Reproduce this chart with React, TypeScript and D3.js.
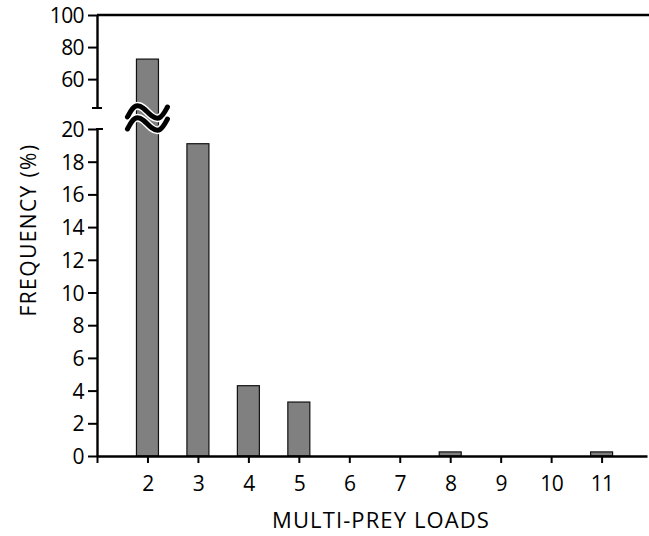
import React, { useEffect, useRef } from 'react';
import * as d3 from 'd3';

// multi-prey load categories and their frequency (%)
const loads = [2, 3, 4, 5, 6, 7, 8, 9, 10, 11];
const frequency = [72.5, 19.1, 4.3, 3.3, 0, 0, 0.25, 0, 0, 0.25];
const lowTicks = [0, 2, 4, 6, 8, 10, 12, 14, 16, 18, 20];
const highTicks = [60, 80, 100];
const xTicks = [1, 2, 3, 4, 5, 6, 7, 8, 9, 10, 11];

const W = 649;
const H = 536;
const FONT = "'Open Sans', sans-serif";

const App = () => {
  const ref = useRef(null);

  useEffect(() => {
    const svg = d3.select(ref.current);
    svg.selectAll('*').remove();

    const x = d3.scaleLinear().domain([1, 11.9]).range([97, 647]);
    const yLow = d3.scaleLinear().domain([0, 20]).range([456, 129]);
    const yHigh = d3.scaleLinear().domain([42, 100]).range([108, 15]);
    const barW = 22;

    const yVal = (v) => (v > 20 ? yHigh(v) : yLow(v));

    // bars
    svg.append('g')
      .selectAll('rect')
      .data(loads.map((l, i) => ({ l, v: frequency[i] })).filter(d => d.v > 0))
      .join('rect')
      .attr('x', d => x(d.l) - barW / 2)
      .attr('width', barW)
      .attr('y', d => yVal(d.v))
      .attr('height', d => yLow(0) - yVal(d.v))
      .attr('fill', '#808080')
      .attr('stroke', '#111')
      .attr('stroke-width', 1.2);

    // lower y axis
    const lowAxis = svg.append('g')
      .attr('transform', `translate(${x(1)},0)`)
      .call(d3.axisLeft(yLow).tickValues(lowTicks).tickSize(9).tickSizeOuter(0).tickFormat(d3.format('d')));

    // upper y axis
    const highAxis = svg.append('g')
      .attr('transform', `translate(${x(1)},0)`)
      .call(d3.axisLeft(yHigh).tickValues(highTicks).tickSize(9).tickSizeOuter(0).tickFormat(d3.format('d')));

    // x axis
    const xAxis = svg.append('g')
      .attr('transform', `translate(0,${yLow(0)})`)
      .call(d3.axisBottom(x).tickValues(xTicks).tickSize(7).tickSizeOuter(0)
        .tickFormat(d => (d === 1 ? '' : String(d))));

    [lowAxis, highAxis, xAxis].forEach(g => {
      g.selectAll('path.domain').attr('stroke', '#000').attr('stroke-width', 2.4);
      g.selectAll('.tick line').attr('stroke', '#000').attr('stroke-width', 2);
      g.selectAll('.tick text')
        .attr('font-family', FONT)
        .attr('font-size', 21)
        .attr('letter-spacing', -0.6)
        .attr('fill', '#000');
    });
    lowAxis.selectAll('.tick text').attr('x', -13).attr('dy', '0.36em');
    highAxis.selectAll('.tick text').attr('x', -13).attr('dy', '0.36em');
    xAxis.selectAll('.tick text').attr('y', 20);

    // top frame line
    svg.append('line')
      .attr('x1', x(1)).attr('x2', W)
      .attr('y1', yHigh(100)).attr('y2', yHigh(100))
      .attr('stroke', '#000').attr('stroke-width', 2.4);

    // axis caps at the break
    svg.append('line')
      .attr('x1', x(1) - 5).attr('x2', x(1) + 5)
      .attr('y1', yHigh(42)).attr('y2', yHigh(42))
      .attr('stroke', '#000').attr('stroke-width', 2);
    svg.append('line')
      .attr('x1', x(1) - 1).attr('x2', x(1) + 6)
      .attr('y1', yLow(20)).attr('y2', yLow(20))
      .attr('stroke', '#000').attr('stroke-width', 2);

    // break symbol on the tall bar
    const cx = x(2);
    const wave = d3.line().curve(d3.curveBasis);
    [yHigh(42) + 4, yLow(20) - 5].forEach(cy => {
      const pts = [
        [cx - 20, cy + 5], [cx - 13, cy - 8], [cx - 4, cy - 5],
        [cx + 4, cy + 5], [cx + 13, cy + 8], [cx + 20, cy - 5],
      ];
      svg.append('path').attr('d', wave(pts))
        .attr('fill', 'none').attr('stroke', '#fff').attr('stroke-width', 8);
      svg.append('path').attr('d', wave(pts))
        .attr('fill', 'none').attr('stroke', '#000').attr('stroke-width', 5)
        .attr('stroke-linecap', 'round');
    });

    // axis titles
    svg.append('text')
      .attr('x', 381).attr('y', 528)
      .attr('text-anchor', 'middle')
      .attr('font-family', FONT).attr('font-size', 22).attr('letter-spacing', 1.1)
      .attr('fill', '#000')
      .text('MULTI-PREY LOADS');

    svg.append('text')
      .attr('transform', `translate(36,230) rotate(-90)`)
      .attr('text-anchor', 'middle')
      .attr('font-family', FONT).attr('font-size', 21).attr('letter-spacing', 1.4)
      .attr('fill', '#000')
      .text('FREQUENCY (%)');
  }, []);

  return (
    <svg ref={ref} width={W} height={H}
      style={{ position: 'absolute', left: 0, top: 0, background: '#fff' }} />
  );
};

export default App;
